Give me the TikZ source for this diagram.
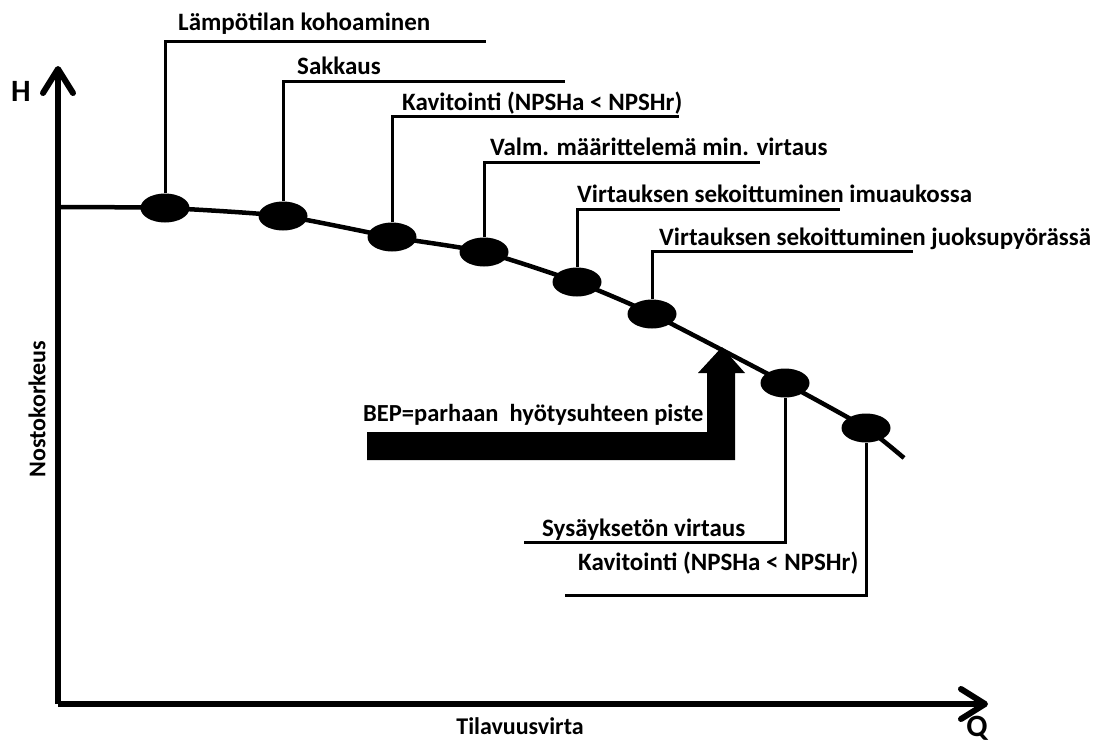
\documentclass[tikz,border=0pt]{standalone}
\usepackage{fontspec}
\setmainfont{Carlito}
\usetikzlibrary{arrows.meta,shapes.geometric}
\tikzset{
  pt/.style={ellipse,fill=black,minimum width=49pt,minimum height=29pt,inner sep=0pt},
  lbl/.style={font=\bfseries\fontsize{25}{29}\selectfont,inner sep=0pt,anchor=base west},
  beplbl/.style={font=\bfseries\fontsize{24.5}{28}\selectfont,inner sep=0pt,anchor=base west},
  axlbl/.style={font=\bfseries\fontsize{31}{34}\selectfont,inner sep=0pt},
  axname/.style={font=\bfseries\fontsize{24}{27}\selectfont,inner sep=0pt},
  axis/.style={line width=6pt,-{Straight Barb[length=24pt,width=30pt,round]}},
  leader/.style={line width=3pt},
  curve/.style={line width=4.5pt},
}
\begin{document}
\begin{tikzpicture}[x=1pt,y=-1pt]
\useasboundingbox (0,0) rectangle (1097,744);
% axes
\coordinate (O) at (58,704);
\coordinate (Htop) at (58,66);
\coordinate (Qend) at (988,704);
\draw[axis] (O) -- (Htop);
\draw[axis] (O) -- (Qend);
\node[axlbl] (H) at (21,91) {H};
\node[axlbl] (Q) at (977,728) {Q};
\node[axname] (xl) at (520,726) {Tilavuusvirta};
\node[axname,rotate=90] (yl) at (37,409) {Nostokorkeus};
% points
\node[pt] (p1) at (165,208) {};
\node[pt] (p2) at (283,216) {};
\node[pt] (p3) at (392,237) {};
\node[pt] (p4) at (484,252) {};
\node[pt] (p5) at (577,282) {};
\node[pt] (p6) at (652,314) {};
\node[pt] (p7) at (785,383) {};
\node[pt] (p8) at (866,428) {};
\coordinate (cs) at (58,207);
\coordinate (bep) at (722,347);
\coordinate (ce) at (904,458);
\draw[curve] plot[smooth,tension=0.35] coordinates {(cs) (p1) (p2) (p3) (p4) (p5) (p6) (p7) (p8) (ce)};
% leaders
\coordinate (e1) at (486,41);
\coordinate (e2) at (565,81);
\coordinate (e3) at (679,116);
\coordinate (e4) at (760,162);
\coordinate (e5) at (840,209);
\coordinate (e6) at (913,251);
\coordinate (e7) at (524,542);
\coordinate (e8) at (565,595);
\draw[leader] (p1.north) |- (e1);
\draw[leader] (p2.north) |- (e2);
\draw[leader] (p3.north) |- (e3);
\draw[leader] (p4.north) |- (e4);
\draw[leader] (p5.north) |- (e5);
\draw[leader] (p6.north) |- (e6);
\draw[leader] (p7.south) |- (e7);
\draw[leader] (p8.south) |- (e8);
\node[lbl] (t1) at (178,30) {Lämpötilan kohoaminen};
\node[lbl] (t2) at (297,74) {Sakkaus};
\node[lbl] (t3) at (402,110) {Kavitointi (NPSHa < NPSHr)};
\node[lbl] (t4) at (490,155) {Valm. määrittelemä min. virtaus};
\node[lbl] (t5) at (577,202) {Virtauksen sekoittuminen imuaukossa};
\node[lbl] (t6) at (659,245) {Virtauksen sekoittuminen juoksupyörässä};
\node[lbl] (t7) at (542,536) {Sysäyksetön virtaus};
\node[lbl] (t8) at (578,570) {Kavitointi (NPSHa < NPSHr)};
% BEP arrow
\fill (367,432) -- (707,432) -- (707,373) -- (698,373) -- (bep) -- (745,373) -- (735,373) -- (735,460) -- (367,460) -- cycle;
\node[beplbl] (tb) at (363,421) {BEP=parhaan\ \ hyötysuhteen piste};
\end{tikzpicture}
\end{document}
